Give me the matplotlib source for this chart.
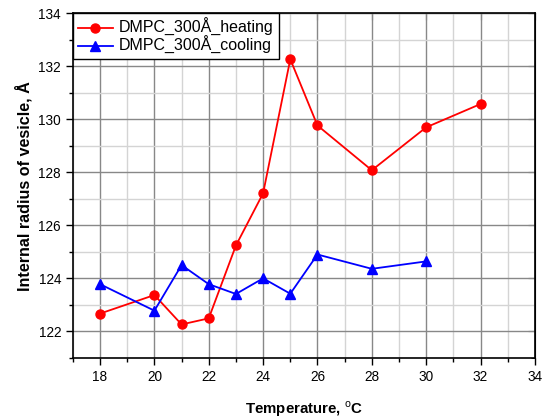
import matplotlib
matplotlib.use('Agg')
import matplotlib.pyplot as plt
from matplotlib.ticker import MultipleLocator

plt.rcParams['font.family'] = ['Liberation Sans', 'DejaVu Sans']
plt.rcParams['mathtext.fontset'] = 'custom'
plt.rcParams['mathtext.rm'] = 'Liberation Sans'

# data
temp_heat = [18, 20, 21, 22, 23, 24, 25, 26, 28, 30, 32]
radius_heat = [122.67, 123.37, 122.26, 122.49, 125.24, 127.21, 132.27, 129.77, 128.08, 129.70, 130.58]
temp_cool = [18, 20, 21, 22, 23, 24, 25, 26, 28, 30]
radius_cool = [123.78, 122.78, 124.50, 123.78, 123.41, 124.00, 123.42, 124.90, 124.36, 124.64]

fig = plt.figure(figsize=(5.52, 4.19), dpi=100)
ax = fig.add_axes([0.132, 0.146, 0.837, 0.822])

ax.plot(temp_heat, radius_heat, color='#ff0000', marker='o', markersize=6.5,
        linewidth=1.3, label='DMPC_300Å_heating', zorder=3)
ax.plot(temp_cool, radius_cool, color='#0000ff', marker='^', markersize=6.5,
        linewidth=1.3, label='DMPC_300Å_cooling', zorder=3)

ax.set_xlim(17, 34)
ax.set_ylim(121, 134)
ax.xaxis.set_major_locator(MultipleLocator(2))
ax.xaxis.set_minor_locator(MultipleLocator(1))
ax.yaxis.set_major_locator(MultipleLocator(2))
ax.yaxis.set_minor_locator(MultipleLocator(1))

ax.grid(which='major', color='#888888', linewidth=1.0, zorder=0)
ax.grid(which='minor', color='#d4d4d4', linewidth=1.0, zorder=0)
ax.set_axisbelow(True)

ax.tick_params(which='major', direction='out', length=5, width=1, labelsize=9.8)
ax.tick_params(which='minor', direction='out', length=3, width=1)
for sp in ax.spines.values():
    sp.set_linewidth(1.2)

# inward ticks on top and right
top = ax.secondary_xaxis('top')
top.xaxis.set_major_locator(MultipleLocator(2))
top.xaxis.set_minor_locator(MultipleLocator(1))
top.tick_params(which='major', direction='in', length=5, labeltop=False)
top.tick_params(which='minor', direction='in', length=3)
right = ax.secondary_yaxis('right')
right.yaxis.set_major_locator(MultipleLocator(2))
right.yaxis.set_minor_locator(MultipleLocator(1))
right.tick_params(which='major', direction='in', length=5, labelright=False)
right.tick_params(which='minor', direction='in', length=3)

ax.set_xlabel(r'Temperature, $^{\mathrm{o}}$C', fontsize=10.8, fontweight='bold', labelpad=11)
ax.set_ylabel('Internal radius of vesicle, Å', fontsize=11.6, fontweight='bold', labelpad=4)

leg = ax.legend(loc='upper left', bbox_to_anchor=(0, 1), fontsize=11.5,
                frameon=True, fancybox=False, edgecolor='black', framealpha=1,
                borderaxespad=0, handlelength=2.2, handletextpad=0.4,
                borderpad=0.3, labelspacing=0.0)
leg.get_frame().set_linewidth(1.0)

fig.savefig('out.png', dpi=100)
